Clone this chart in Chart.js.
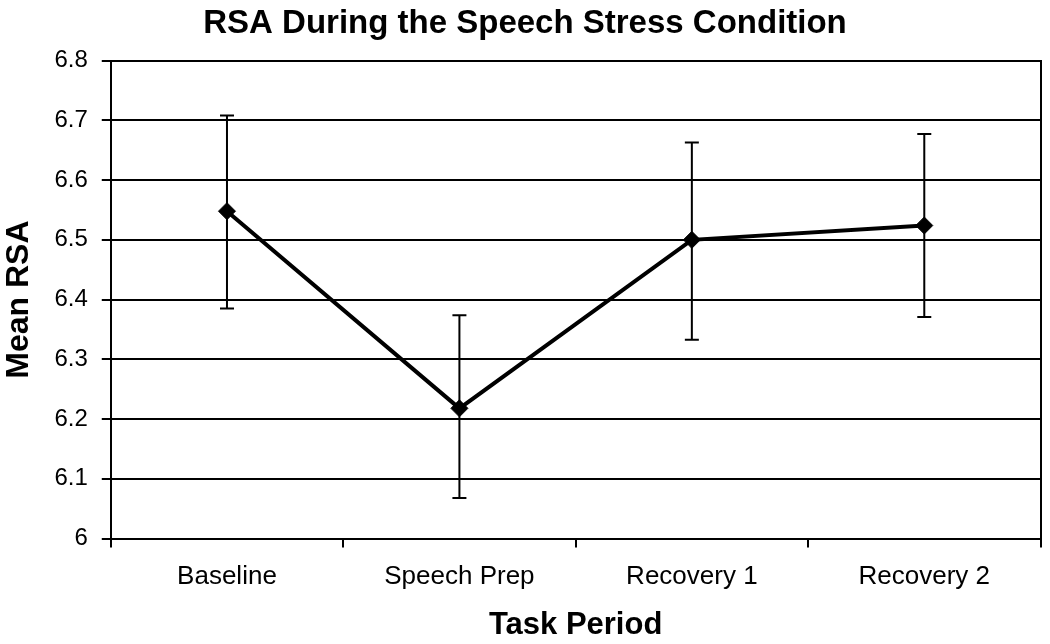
<!DOCTYPE html>
<html>
<head>
<meta charset="utf-8">
<script src="https://cdn.jsdelivr.net/npm/chart.js@4.4.1/dist/chart.umd.min.js"></script>
<style>
  html, body { margin: 0; padding: 0; background: #ffffff; }
  #wrap { width: 1050px; height: 644px; position: relative; }
</style>
</head>
<body>
<div id="wrap"><canvas id="c" width="1050" height="644"></canvas></div>
<script>
// ---- Data ----
const categories = ["Baseline", "Speech Prep", "Recovery 1", "Recovery 2"];
const meanRSA    = [6.548, 6.218, 6.500, 6.524];
const errUpper   = [6.708, 6.374, 6.663, 6.677];
const errLower   = [6.385, 6.068, 6.333, 6.371];
const yTickMin   = 6.0;
const yTickMax   = 6.8;
const yTickStep  = 0.1;

const FONT = "'Liberation Sans', Arial, Helvetica, sans-serif";

const errorBarPlugin = {
  id: 'errorBars',
  beforeDatasetsDraw(chart) {
    const ctx = chart.ctx;
    const xs = chart.scales.x;
    const ys = chart.scales.y;
    ctx.save();
    ctx.strokeStyle = '#000';
    ctx.lineWidth = 2;
    for (let i = 0; i < categories.length; i++) {
      const x = xs.getPixelForValue(i);
      const yt = ys.getPixelForValue(errUpper[i]);
      const yb = ys.getPixelForValue(errLower[i]);
      ctx.beginPath();
      ctx.moveTo(x, yt); ctx.lineTo(x, yb);
      ctx.moveTo(x - 7, yt); ctx.lineTo(x + 7, yt);
      ctx.moveTo(x - 7, yb); ctx.lineTo(x + 7, yb);
      ctx.stroke();
    }
    ctx.restore();
  }
};

new Chart(document.getElementById('c'), {
  type: 'line',
  data: {
    labels: categories,
    datasets: [{
      data: meanRSA,
      borderColor: '#000',
      backgroundColor: '#000',
      borderWidth: 4,
      pointStyle: 'rectRot',
      pointRadius: 8.5,
      pointBorderWidth: 1,
      pointBackgroundColor: '#000',
      pointBorderColor: '#000',
      tension: 0,
      fill: false
    }]
  },
  options: {
    responsive: false,
    animation: false,
    events: [],
    layout: { padding: { left: 0, right: 0, top: 0, bottom: 0 } },
    plugins: {
      legend: { display: false },
      tooltip: { enabled: false },
      title: {
        display: true,
        text: 'RSA During the Speech Stress Condition',
        color: '#000',
        font: { family: FONT, size: 33, weight: 'bold' },
        padding: { top: 4, bottom: 17 }
      }
    },
    scales: {
      x: {
        type: 'category',
        offset: true,
        grid: {
          display: true,
          offset: true,
          drawOnChartArea: false,
          drawTicks: true,
          tickLength: 9,
          color: '#000',
          lineWidth: 2
        },
        border: { display: true, color: '#000', width: 2 },
        ticks: {
          color: '#000',
          font: { family: FONT, size: 26 },
          padding: 14,
          maxRotation: 0
        },
        title: {
          display: true,
          text: 'Task Period',
          color: '#000',
          font: { family: FONT, size: 31, weight: 'bold' },
          padding: { top: 0, bottom: 0 }
        }
      },
      y: {
        min: yTickMin,
        max: yTickMax,
        ticks: {
          stepSize: yTickStep,
          color: '#000',
          font: { family: FONT, size: 24 },
          padding: 14,
          callback: (v) => String(Number(Number(v).toFixed(1)))
        },
        grid: {
          color: '#000',
          lineWidth: 2,
          tickLength: 9,
          drawTicks: true
        },
        border: { display: true, color: '#000', width: 2 },
        title: {
          display: true,
          text: 'Mean RSA',
          color: '#000',
          font: { family: FONT, size: 32, weight: 'bold' },
          padding: { top: 0, bottom: 2 }
        }
      },
      y2: {
        position: 'right',
        min: yTickMin,
        max: yTickMax,
        ticks: { display: false },
        grid: { display: false, drawTicks: false, drawOnChartArea: false },
        border: { display: true, color: '#000', width: 2 }
      }
    }
  },
  plugins: [errorBarPlugin]
});
</script>
</body>
</html>
